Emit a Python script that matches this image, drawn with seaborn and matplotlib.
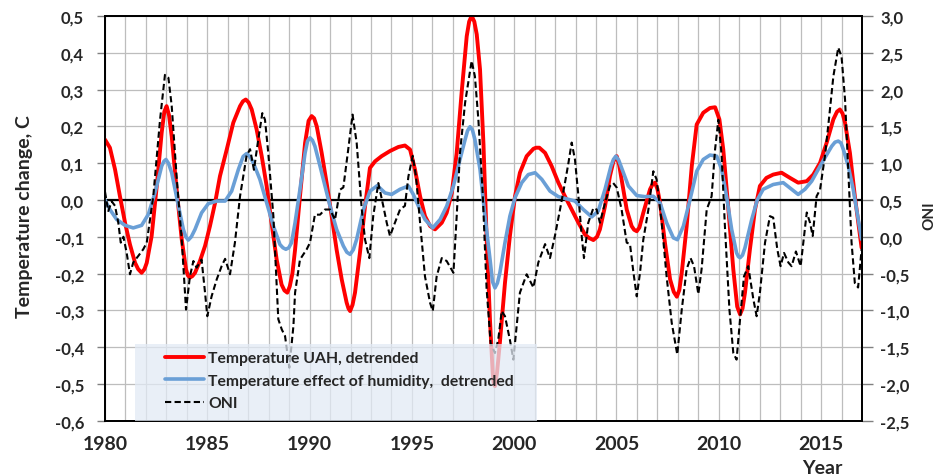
import pandas as pd
import matplotlib
matplotlib.use("Agg")
import matplotlib.pyplot as plt
from matplotlib.patches import Rectangle
from matplotlib.lines import Line2D
from matplotlib.ticker import FuncFormatter
import seaborn as sns

# Temperature UAH, detrended (C)
red_year = [1980.00, 1980.24, 1980.49, 1980.73, 1980.98, 1981.22, 1981.47, 1981.79, 1982.04, 1982.28,
            1982.53, 1982.77, 1983.01, 1983.26, 1983.50, 1983.75, 1983.96, 1984.15, 1984.40, 1984.64,
            1984.89, 1985.13, 1985.38, 1985.62, 1985.95, 1986.27, 1986.60, 1986.88, 1987.17, 1987.41,
            1987.66, 1987.90, 1988.14, 1988.39, 1988.63, 1988.91, 1989.16, 1989.29, 1989.53, 1989.78,
            1990.10, 1990.35, 1990.59, 1990.83, 1991.08, 1991.32, 1991.57, 1991.81, 1991.98, 1992.22,
            1992.46, 1992.71, 1992.95, 1993.20, 1993.52, 1993.93, 1994.34, 1994.66, 1994.91, 1995.15,
            1995.40, 1995.64, 1995.89, 1996.13, 1996.46, 1996.70, 1996.95, 1997.19, 1997.43, 1997.68,
            1997.92, 1998.17, 1998.33, 1998.50, 1998.65, 1998.82, 1998.95, 1999.06, 1999.30, 1999.55,
            1999.79, 2000.04, 2000.28, 2000.61, 2000.94, 2001.23, 2001.51, 2001.83, 2002.16, 2002.48,
            2002.81, 2003.14, 2003.46, 2003.87, 2004.19, 2004.44, 2004.68, 2005.01, 2005.25, 2005.50,
            2005.74, 2005.99, 2006.31, 2006.64, 2006.88, 2007.13, 2007.37, 2007.62, 2007.95, 2008.19,
            2008.43, 2008.68, 2008.92, 2009.24, 2009.57, 2009.82, 2010.03, 2010.22, 2010.47, 2010.71,
            2011.04, 2011.28, 2011.52, 2011.77, 2012.01, 2012.33, 2012.66, 2013.07, 2013.48, 2013.88,
            2014.30, 2014.62, 2014.95, 2015.27, 2015.60, 2015.92, 2016.17, 2016.41, 2016.65, 2016.98]
red_val = [0.164, 0.142, 0.083, 0.010, -0.062, -0.121, -0.171, -0.198, -0.171, -0.098,
           0.038, 0.183, 0.255, 0.173, 0.029, -0.107, -0.189, -0.211, -0.198, -0.166,
           -0.125, -0.071, -0.008, 0.065, 0.137, 0.210, 0.255, 0.273, 0.246, 0.192,
           0.119, 0.038, -0.062, -0.162, -0.230, -0.252, -0.200, -0.135, 0.010, 0.155,
           0.228, 0.200, 0.128, 0.047, -0.044, -0.135, -0.216, -0.279, -0.302, -0.252,
           -0.144, -0.017, 0.087, 0.105, 0.119, 0.133, 0.144, 0.148, 0.137, 0.083,
           0.010, -0.044, -0.071, -0.080, -0.062, -0.035, 0.019, 0.128, 0.291, 0.445,
           0.500, 0.450, 0.355, 0.150, -0.100, -0.330, -0.470, -0.506, -0.388, -0.225,
           -0.098, 0.010, 0.074, 0.119, 0.139, 0.142, 0.128, 0.092, 0.047, 0.010,
           -0.026, -0.062, -0.094, -0.109, -0.080, -0.017, 0.065, 0.119, 0.056, -0.026,
           -0.071, -0.085, -0.035, 0.029, 0.047, -0.008, -0.117, -0.216, -0.263, -0.198,
           -0.071, 0.092, 0.205, 0.237, 0.250, 0.252, 0.219, 0.137, -0.026, -0.189,
           -0.311, -0.252, -0.135, -0.026, 0.038, 0.060, 0.069, 0.074, 0.060, 0.047,
           0.051, 0.069, 0.101, 0.155, 0.219, 0.246, 0.210, 0.128, 0.010, -0.130]
# extra readings around the turning points of the red curve
red_peak_year = [1981.62, 1981.93, 1982.90, 1983.13, 1984.05, 1984.27, 1986.74, 1987.02, 1988.77, 1989.03,
                 1989.95, 1990.22, 1991.90, 1992.10, 1997.80, 1998.05, 1998.99, 1999.16, 2001.07, 2003.65,
                 2004.05, 2004.85, 2005.13, 2005.86, 2006.12, 2006.76, 2007.00, 2007.80, 2008.07, 2010.90,
                 2011.16, 2015.78, 2016.05]
red_peak_val = [-0.188, -0.188, 0.240, 0.230, -0.205, -0.207, 0.268, 0.265, -0.246, -0.235,
                0.215, 0.222, -0.295, -0.285, 0.485, 0.485, -0.495, -0.470, 0.142, -0.103,
                -0.100, 0.105, 0.095, -0.081, -0.075, 0.042, 0.030, -0.250, -0.245, -0.290,
                -0.295, 0.240, 0.235]

# Temperature effect of humidity, detrended (C)
hum_year = [1980.00, 1980.24, 1980.57, 1980.98, 1981.38, 1981.79, 1982.12, 1982.44, 1982.77, 1982.98,
            1983.26, 1983.59, 1983.83, 1984.07, 1984.40, 1984.72, 1985.05, 1985.46, 1985.87, 1986.19,
            1986.52, 1986.92, 1987.25, 1987.57, 1987.90, 1988.23, 1988.55, 1988.84, 1989.12, 1989.29,
            1989.53, 1989.78, 1990.02, 1990.26, 1990.51, 1990.75, 1991.00, 1991.32, 1991.65, 1991.98,
            1992.30, 1992.63, 1992.95, 1993.31, 1993.69, 1994.01, 1994.42, 1994.83, 1995.07, 1995.32,
            1995.64, 1996.02, 1996.38, 1996.70, 1997.03, 1997.35, 1997.60, 1997.84, 1998.08, 1998.33,
            1998.57, 1998.82, 1999.06, 1999.30, 1999.55, 1999.79, 2000.04, 2000.37, 2000.69, 2001.02,
            2001.35, 2001.75, 2002.16, 2002.57, 2002.97, 2003.38, 2003.79, 2004.11, 2004.44, 2004.73,
            2004.97, 2005.25, 2005.58, 2005.99, 2006.39, 2006.80, 2007.13, 2007.45, 2007.78, 2007.98,
            2008.27, 2008.59, 2008.92, 2009.24, 2009.57, 2009.90, 2010.14, 2010.38, 2010.63, 2010.87,
            2011.04, 2011.28, 2011.61, 2011.88, 2012.17, 2012.66, 2013.15, 2013.56, 2013.88, 2014.21,
            2014.54, 2014.86, 2015.19, 2015.52, 2015.84, 2016.09, 2016.33, 2016.57, 2016.98]
hum_val = [0.000, -0.026, -0.053, -0.069, -0.076, -0.069, -0.039, 0.019, 0.092, 0.110,
           0.074, -0.017, -0.080, -0.109, -0.080, -0.035, -0.010, -0.003, -0.003, 0.024,
           0.083, 0.126, 0.101, 0.056, -0.008, -0.071, -0.121, -0.134, -0.116, -0.062,
           0.029, 0.128, 0.169, 0.146, 0.092, 0.038, -0.017, -0.080, -0.125, -0.148,
           -0.107, -0.026, 0.024, 0.039, 0.019, 0.015, 0.029, 0.038, 0.015, -0.017,
           -0.053, -0.076, -0.053, -0.017, 0.038, 0.110, 0.164, 0.199, 0.164, 0.083,
           -0.044, -0.162, -0.239, -0.198, -0.116, -0.044, 0.006, 0.047, 0.069, 0.074,
           0.056, 0.024, 0.009, 0.003, -0.003, -0.026, -0.046, -0.030, 0.029, 0.092,
           0.119, 0.087, 0.038, 0.012, 0.009, 0.010, -0.008, -0.062, -0.103, -0.108,
           -0.071, 0.000, 0.078, 0.110, 0.122, 0.119, 0.083, 0.010, -0.080, -0.144,
           -0.157, -0.130, -0.053, 0.000, 0.029, 0.042, 0.047, 0.029, 0.015, 0.029,
           0.051, 0.083, 0.115, 0.146, 0.160, 0.137, 0.092, 0.029, -0.107]
# extra readings around the turning points of the blue curve
hum_peak_year = [1982.88, 1983.10, 1983.95, 1984.22, 1986.75, 1987.08, 1988.70, 1988.98, 1989.90, 1990.14,
                 1991.82, 1992.14, 1997.72, 1997.96, 1998.94, 1999.18, 2004.85, 2005.11, 2010.96, 2011.16,
                 2015.68, 2015.97]
hum_peak_val = [0.105, 0.100, -0.100, -0.100, 0.118, 0.118, -0.130, -0.130, 0.160, 0.162,
                -0.142, -0.135, 0.188, 0.190, -0.222, -0.226, 0.110, 0.108, -0.154, -0.150,
                0.157, 0.155]

# ONI (right axis)
oni_year = [1980.00, 1980.16, 1980.33, 1980.49, 1980.65, 1980.77, 1980.90, 1981.06, 1981.22, 1981.38,
            1981.63, 1981.87, 1982.04, 1982.36, 1982.69, 1982.93, 1983.10, 1983.26, 1983.50, 1983.75,
            1983.96, 1984.15, 1984.32, 1984.48, 1984.72, 1984.89, 1985.00, 1985.21, 1985.46, 1985.70,
            1985.87, 1986.11, 1986.35, 1986.60, 1986.92, 1987.09, 1987.28, 1987.49, 1987.69, 1987.82,
            1987.98, 1988.23, 1988.47, 1988.64, 1988.80, 1989.01, 1989.21, 1989.29, 1989.53, 1989.86,
            1990.02, 1990.26, 1990.51, 1990.75, 1991.00, 1991.24, 1991.49, 1991.65, 1991.89, 1992.10,
            1992.30, 1992.55, 1992.71, 1992.92, 1993.11, 1993.36, 1993.60, 1993.77, 1993.93, 1994.17,
            1994.42, 1994.66, 1994.83, 1995.04, 1995.20, 1995.40, 1995.64, 1995.89, 1996.02, 1996.21,
            1996.46, 1996.70, 1997.03, 1997.19, 1997.35, 1997.60, 1997.92, 1998.08, 1998.25, 1998.46,
            1998.65, 1998.85, 1999.06, 1999.22, 1999.39, 1999.55, 1999.79, 1999.96, 2000.12, 2000.28,
            2000.61, 2000.94, 2001.18, 2001.51, 2001.75, 2001.99, 2002.24, 2002.48, 2002.65, 2002.81,
            2002.97, 2003.14, 2003.30, 2003.41, 2003.62, 2003.87, 2004.03, 2004.19, 2004.44, 2004.68,
            2004.84, 2005.01, 2005.25, 2005.50, 2005.66, 2005.83, 2005.99, 2006.15, 2006.31, 2006.56,
            2006.80, 2006.96, 2007.21, 2007.45, 2007.70, 2007.97, 2008.19, 2008.43, 2008.62, 2008.79,
            2009.00, 2009.16, 2009.41, 2009.65, 2009.82, 2009.98, 2010.14, 2010.30, 2010.52, 2010.71,
            2010.87, 2011.04, 2011.23, 2011.44, 2011.69, 2011.85, 2012.01, 2012.26, 2012.50, 2012.66,
            2012.86, 2013.02, 2013.19, 2013.40, 2013.56, 2013.77, 2014.00, 2014.13, 2014.30, 2014.46,
            2014.59, 2014.78, 2014.95, 2015.19, 2015.40, 2015.60, 2015.84, 2016.00, 2016.17, 2016.33,
            2016.49, 2016.65, 2016.81, 2016.98]
oni_val = [0.61, 0.35, 0.48, 0.42, 0.19, -0.08, 0.00, -0.22, -0.51, -0.35,
           -0.26, -0.17, -0.08, 0.55, 1.59, 2.20, 2.16, 1.78, 0.82, -0.04,
           -0.99, -0.54, -0.33, -0.42, -0.31, -0.76, -1.08, -0.81, -0.58, -0.40,
           -0.30, -0.51, -0.08, 0.55, 1.10, 1.19, 0.91, 1.32, 1.68, 1.59,
           1.14, 0.28, -1.12, -1.26, -1.35, -1.78, -1.21, -0.76, -0.31, -0.17,
           -0.08, 0.30, 0.30, 0.37, 0.37, 0.23, 0.64, 0.67, 1.19, 1.66,
           1.28, 0.37, -0.04, -0.29, 0.28, 0.73, 0.42, 0.19, 0.01, 0.19,
           0.37, 0.42, 0.82, 1.10, 0.82, 0.19, -0.54, -0.90, -1.01, -0.54,
           -0.29, -0.33, -0.49, 0.28, 1.14, 1.82, 2.39, 2.18, 1.59, 0.60,
           -0.70, -1.45, -1.58, -1.40, -1.01, -1.08, -1.40, -1.67, -1.21, -0.76,
           -0.51, -0.69, -0.35, -0.10, -0.29, 0.01, 0.37, 0.73, 1.00, 1.28,
           1.05, 0.55, 0.01, -0.29, 0.19, 0.39, 0.37, 0.19, 0.46, 0.69,
           0.73, 0.67, 0.37, -0.08, -0.10, -0.49, -0.81, -0.49, -0.04, 0.37,
           0.89, 0.78, 0.19, -0.54, -1.17, -1.60, -0.99, -0.44, -0.29, -0.40,
           -0.78, -0.44, 0.37, 0.55, 1.19, 1.59, 1.10, 0.14, -0.99, -1.58,
           -1.67, -1.12, -0.54, -0.40, -0.85, -1.08, -0.76, -0.08, 0.28, 0.26,
           -0.17, -0.40, -0.22, -0.35, -0.40, -0.20, -0.40, -0.08, 0.33, 0.19,
           0.01, 0.55, 0.64, 1.10, 1.64, 2.18, 2.57, 2.45, 1.87, 0.91,
           -0.08, -0.63, -0.69, -0.17]

x_label_years = [1980, 1985, 1990, 1995, 2000, 2005, 2010, 2015]
left_ticks = [-0.6, -0.5, -0.4, -0.3, -0.2, -0.1, 0.0, 0.1, 0.2, 0.3, 0.4, 0.5]
right_ticks = [-2.5, -2.0, -1.5, -1.0, -0.5, 0.0, 0.5, 1.0, 1.5, 2.0, 2.5, 3.0]
legend_labels = ["Temperature UAH, detrended",
                 "Temperature effect of humidity,  detrended",
                 "ONI"]

red_df = pd.DataFrame({"year": red_year + red_peak_year, "value": red_val + red_peak_val})
hum_df = pd.DataFrame({"year": hum_year + hum_peak_year, "value": hum_val + hum_peak_val})
oni_df = pd.DataFrame({"year": oni_year, "value": oni_val})

sns.set_theme(style="white")
plt.rcParams['font.family'] = ['Lato', 'DejaVu Sans']
plt.rcParams['font.weight'] = 'bold'

RED = "#ff0000"
BLUE = "#6a9fd6"
GRID = "#bdbdbd"
ONI_DASH = (0, (3, 1.6))

fig = plt.figure(figsize=(9.41, 4.77), dpi=100)
ax = fig.add_axes([105 / 941, 1 - 421.7 / 477, 757 / 941, 404.7 / 477])
ax2 = ax.twinx()

sns.lineplot(data=red_df, x="year", y="value", ax=ax, color=RED, linewidth=2.8, legend=False,
             zorder=3, solid_joinstyle="round", solid_capstyle="round")
sns.lineplot(data=hum_df, x="year", y="value", ax=ax, color=BLUE, linewidth=2.6, legend=False,
             zorder=4, solid_joinstyle="round", solid_capstyle="round")
sns.lineplot(data=oni_df, x="year", y="value", ax=ax2, color="black", linewidth=1.5,
             linestyle=ONI_DASH, legend=False, zorder=3)
ax.axhline(0, color="black", lw=1.6, zorder=2)

fmt = FuncFormatter(lambda v, p: ("%.1f" % v).replace(".", ",").replace("-0,0", "0,0"))

ax.set_xlim(1980, 2017)
ax.set_ylim(-0.6, 0.5)
ax2.set_ylim(-2.5, 3.0)
years = list(range(1980, 2018))
ax.set_xticks(years)
ax.set_xticklabels([str(y) if y in x_label_years else "" for y in years])
ax.set_yticks(left_ticks)
ax.yaxis.set_major_formatter(fmt)
ax2.set_yticks(right_ticks)
ax2.yaxis.set_major_formatter(fmt)
ax.grid(True, color=GRID, lw=0.9, zorder=0)
ax.set_axisbelow(True)
ax.set_xlabel("")
ax.set_ylabel("")
ax2.set_xlabel("")
ax2.set_ylabel("")

ax.tick_params(axis="x", length=0, pad=10, labelsize=14)
ax.tick_params(axis="y", left=True, direction="out", length=6, width=1, color="#808080",
               pad=9, labelsize=12)
ax2.tick_params(axis="y", right=True, direction="out", length=8, width=1, color="#808080",
                pad=5, labelsize=12)
for a in (ax, ax2):
    for s in a.spines.values():
        s.set_color("black")
        s.set_linewidth(1.3)

# semi-transparent legend panel over the lines
ax2.add_patch(Rectangle((0.04, 0.0), 0.531, 0.19, transform=ax2.transAxes,
                        facecolor="#e2eaf5", alpha=0.75, edgecolor="none", zorder=10))
handles = [Line2D([], [], color=RED, lw=2.8),
           Line2D([], [], color=BLUE, lw=2.6),
           Line2D([], [], color="black", lw=1.5, linestyle=ONI_DASH)]
leg = ax2.legend(handles, legend_labels, loc="center left", bbox_to_anchor=(0.079, 0.099),
                 frameon=False, borderpad=0, borderaxespad=0, handlelength=2.5,
                 handletextpad=0.25, labelspacing=0.55, prop={"weight": "bold", "size": 11.3})
leg.set_zorder(11)

fig.text(25 / 941, 1 - 217 / 477, "Temperature change, C", rotation=90, ha="center", va="center",
         fontsize=14, fontweight="bold")
fig.text(929 / 941, 1 - 216 / 477, "ONI", rotation=90, ha="center", va="center",
         fontsize=11, fontweight="bold")
fig.text(822 / 941, 1 - 469 / 477, "Year", ha="center", va="center", fontsize=14, fontweight="bold")

fig.savefig("out.png", dpi=100)
